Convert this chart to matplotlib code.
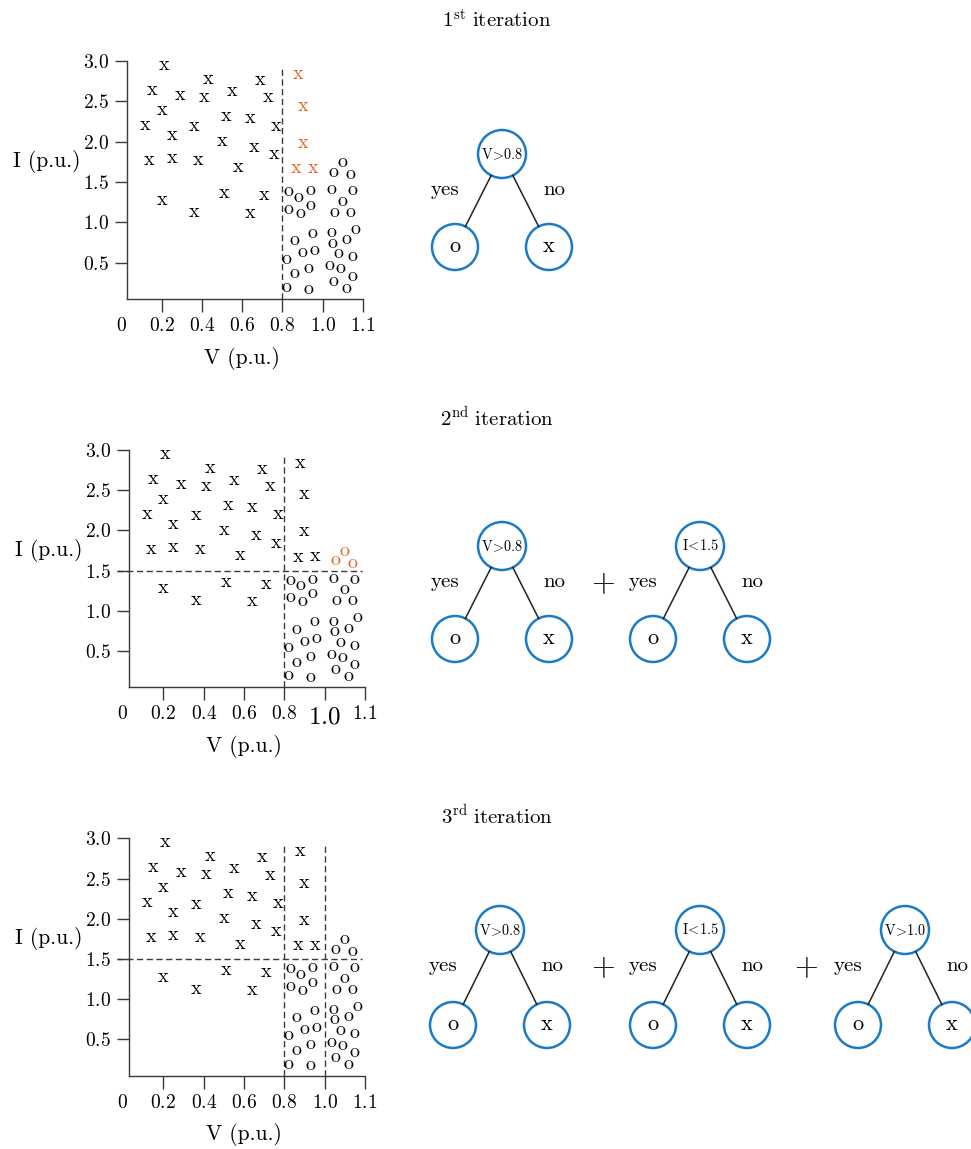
import numpy as np
import matplotlib
matplotlib.use('Agg')
import matplotlib.pyplot as plt
from matplotlib.patches import Circle
import matplotlib.transforms as mtransforms

plt.rcParams['mathtext.fontset'] = 'cm'
plt.rcParams['font.family'] = 'DejaVu Serif'
plt.rcParams['axes.formatter.use_mathtext'] = True

# ---------------- data ----------------
# class "x" samples
x_V = [0.21, 0.15, 0.43, 0.69, 0.29, 0.41, 0.55, 0.73, 0.20, 0.52, 0.64, 0.12, 0.36, 0.77,
       0.25, 0.50, 0.66, 0.76, 0.14, 0.25, 0.38, 0.58, 0.20, 0.51, 0.71, 0.36, 0.64,
       0.88, 0.90, 0.90, 0.87, 0.95]
x_I = [2.94, 2.63, 2.77, 2.76, 2.57, 2.55, 2.62, 2.54, 2.38, 2.31, 2.28, 2.20, 2.18, 2.19,
       2.07, 2.00, 1.93, 1.84, 1.76, 1.79, 1.76, 1.68, 1.27, 1.35, 1.33, 1.12, 1.11,
       2.83, 2.44, 1.98, 1.66, 1.67]
# class "o" samples
o_V = [0.83, 0.88, 0.94, 0.83, 0.89, 0.94, 0.95, 0.86, 0.90, 0.96, 0.82, 0.86, 0.93, 0.82, 0.93,
       1.050, 1.026, 1.070, 1.023, 1.074, 1.050, 1.029, 1.070, 1.081, 1.023, 1.025, 1.060,
       1.040, 1.073, 1.017, 1.045, 1.074, 1.027, 1.058]
o_I = [1.38, 1.31, 1.39, 1.16, 1.11, 1.21, 0.86, 0.77, 0.62, 0.65, 0.54, 0.36, 0.43, 0.19, 0.17,
       1.74, 1.62, 1.59, 1.40, 1.39, 1.26, 1.12, 1.12, 0.91, 0.87, 0.74, 0.78, 0.61, 0.57,
       0.46, 0.42, 0.33, 0.27, 0.18]

xtick_vals = [0.2, 0.4, 0.6, 0.8, 1.0, 1.1]
xtick_labels = ['0.2', '0.4', '0.6', '0.8', '1.0', '1.1']
ytick_vals = [0.5, 1.0, 1.5, 2.0, 2.5, 3.0]
ytick_labels = ['0.5', '1.0', '1.5', '2.0', '2.5', '3.0']

iteration_titles = [r'$1^{\rm st}\ \mathrm{iteration}$',
                    r'$2^{\rm nd}\ \mathrm{iteration}$',
                    r'$3^{\rm rd}\ \mathrm{iteration}$']
tree_labels = [r'$\mathrm{V}\!>\!0.8$', r'$\mathrm{I}\!<\!1.5$', r'$\mathrm{V}\!>\!1.0$']
split_V = [[0.8], [0.8], [0.8, 1.0]]      # vertical split lines per iteration
split_I = [[], [1.5], [1.5]]              # horizontal split lines per iteration

ORANGE = '#E4632A'
BLUE = '#1C7BC3'
AXC = '#3a3a3a'
CM = 'cmr10'

W, H = 971, 1149
fig = plt.figure(figsize=(W / 100, H / 100), dpi=100)


def fwd(x):
    x = np.asarray(x, dtype=float)
    return np.where(x <= 1.0, x, 1.0 + 2.0 * (x - 1.0))


def inv(y):
    y = np.asarray(y, dtype=float)
    return np.where(y <= 1.0, y, 1.0 + (y - 1.0) / 2.0)


def px_rect(left, top, right, bottom):
    return [left / W, 1 - bottom / H, (right - left) / W, (bottom - top) / H]


axes_px = [(127.4, 61, 363, 299), (129, 450, 365, 687.2), (129, 838.3, 365, 1075.5)]
TL = 14

for k in range(3):
    ax = fig.add_axes(px_rect(*axes_px[k]))
    ax.set_xscale('function', functions=(fwd, inv))
    ax.set_xlim(0.03, 1.1)
    ax.set_ylim(0.05, 3.0)
    for s in ['top', 'right']:
        ax.spines[s].set_visible(False)
    for s in ['left', 'bottom']:
        ax.spines[s].set_color(AXC)
        ax.spines[s].set_linewidth(1.0)
    ax.set_xticks(xtick_vals)
    ax.set_xticklabels(['$' + t + '$' for t in xtick_labels])
    ax.set_yticks(ytick_vals)
    ax.set_yticklabels(['$' + t + '$' for t in ytick_labels])
    ax.tick_params(direction='out', length=9, width=1.0, color=AXC,
                   labelsize=TL, pad=4)
    ax.xaxis.set_minor_locator(matplotlib.ticker.NullLocator())
    if k == 1:
        ax.get_xticklabels()[4].set_fontsize(18)
    ax.annotate('$0$', xy=(0, 0), xycoords=('data', 'axes fraction'),
                xytext=(0, -13), textcoords='offset points',
                ha='center', va='top', fontsize=TL, annotation_clip=False)

    # split lines
    for v in split_V[k]:
        ax.plot([v, v], [0.05, 2.94], ls=(0, (4.5, 2.5)), color=AXC, lw=1.0,
                clip_on=False)
    for h in split_I[k]:
        ax.plot([-0.03, 1.092], [h, h], ls=(0, (4.5, 2.5)), color=AXC, lw=1.0,
                clip_on=False)

    xV = np.array(x_V); xI = np.array(x_I)
    oV = np.array(o_V); oI = np.array(o_I)
    hx = (xV > 0.8) if k == 0 else np.zeros(len(xV), bool)
    ho = (oI > 1.5) if k == 1 else np.zeros(len(oV), bool)

    fs = 14.5
    trans = ax.transData + mtransforms.ScaledTranslation(0, -0.215 * fs / 72, fig.dpi_scale_trans)
    for v, i, hl in zip(xV, xI, hx):
        ax.text(v, i, 'x', family=CM, transform=trans, ha='center', va='baseline',
                fontsize=fs, color=ORANGE if hl else 'black')
    for v, i, hl in zip(oV, oI, ho):
        ax.text(v, i, 'o', family=CM, transform=trans, ha='center', va='baseline',
                fontsize=fs, color=ORANGE if hl else 'black')

    ax.text(-0.341, 0.578, 'I (p.u.)', family=CM, transform=ax.transAxes,
            ha='center', va='center', fontsize=15.5)
    ax.text(0.485, -0.25, 'V (p.u.)', family=CM, transform=ax.transAxes,
            ha='center', va='center', fontsize=15.5)

# overlay for titles and trees (pixel coordinates)
ov = fig.add_axes([0, 0, 1, 1], zorder=-1)
ov.set_xlim(0, W)
ov.set_ylim(H, 0)
ov.axis('off')

title_y = [20, 417, 815]
root_y = [154, 546, 930]
child_y = [247, 639, 1025]
tree_x = [[502], [502, 700], [500, 700, 905]]
plus_x = [603, 806]


def draw_tree(cx, ry, cy, label):
    r_root, r_child, dx = 24, 23, 47
    for side, txt in [(-1, 'o'), (1, 'x')]:
        chx = cx + side * dx
        vx, vy = chx - cx, cy - ry
        L = np.hypot(vx, vy)
        ux, uy = vx / L, vy / L
        ov.plot([cx + ux * r_root, chx - ux * r_child],
                [ry + uy * r_root, cy - uy * r_child], color='#222222', lw=1.1)
        ov.add_patch(Circle((chx, cy), r_child, fill=False, ec=BLUE, lw=1.8))
        ov.text(chx, cy + 0.215 * 16 * 100 / 72, txt, family=CM, ha='center',
                va='baseline', fontsize=16)
    ov.add_patch(Circle((cx, ry), r_root, fill=False, ec=BLUE, lw=1.8))
    ov.text(cx, ry, label, ha='center', va='center', fontsize=10.3)
    ov.text(cx - 57, ry + 36, 'yes', family=CM, ha='center', va='center', fontsize=15)
    ov.text(cx + 52, ry + 36, 'no', family=CM, ha='center', va='center', fontsize=15)


for k in range(3):
    ov.text(497, title_y[k], iteration_titles[k], ha='center', va='center', fontsize=15)
    for j, cx in enumerate(tree_x[k]):
        draw_tree(cx, root_y[k], child_y[k], tree_labels[j])
        if j > 0:
            ov.text(plus_x[j - 1], root_y[k] + 37, r'$+$', ha='center', va='center',
                    fontsize=22)

fig.savefig('out.png', dpi=100)
